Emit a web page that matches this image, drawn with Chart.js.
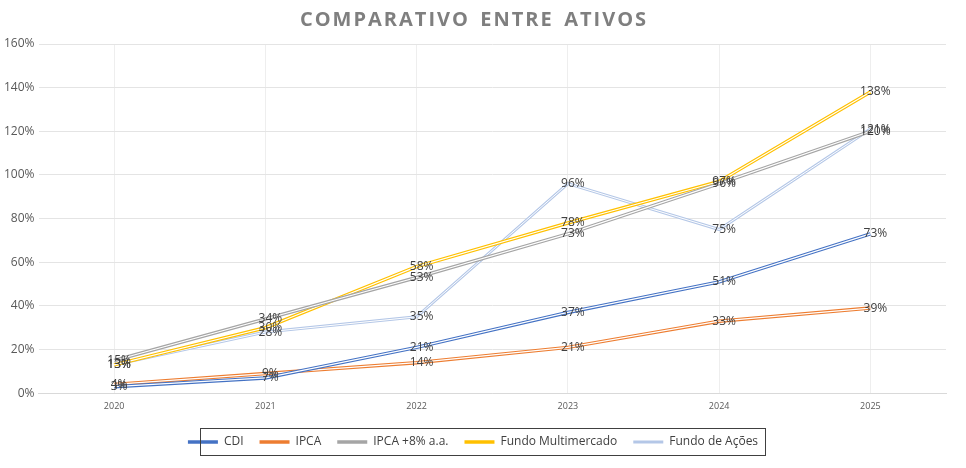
<!DOCTYPE html>
<html>
<head>
<meta charset="utf-8">
<script src="https://cdn.jsdelivr.net/npm/chart.js@4"></script>
<style>
  html, body { margin: 0; background: #fff; }
  #wrap { width: 966px; height: 468px; }
</style>
</head>
<body>
<div id="wrap"><canvas id="myChart"></canvas></div>
<script>
// chart data
const years = ['2020', '2021', '2022', '2023', '2024', '2025'];
const cdi = [3, 7, 21, 37, 51, 73];
const ipca = [4, 9, 14, 21, 33, 39];
const ipcaMais8 = [15, 34, 53, 73, 96, 120];
const multimercado = [13, 30, 58, 78, 97, 138];
const acoes = [13, 28, 35, 96, 75, 121];

// white stripe in the middle of each line, like the double line in Excel
const doubleLine = {
  id: 'doubleLine',
  afterDatasetDraw(chart, args) {
    const meta = args.meta;
    const ctx = chart.ctx;
    ctx.save();
    ctx.strokeStyle = '#fff';
    ctx.lineWidth = meta.index === 4 ? 1 : 1.2;
    ctx.beginPath();
    meta.data.forEach((p, i) => { if (i === 0) ctx.moveTo(p.x, p.y); else ctx.lineTo(p.x, p.y); });
    ctx.stroke();
    ctx.restore();
  }
};

const valueLabels = {
  id: 'valueLabels',
  afterDatasetsDraw(chart) {
    const ctx = chart.ctx;
    ctx.save();
    ctx.font = '12px "Open Sans", sans-serif';
    ctx.fillStyle = '#404040';
    ctx.textAlign = 'center';
    ctx.textBaseline = 'middle';
    chart.data.datasets.forEach((ds, i) => {
      chart.getDatasetMeta(i).data.forEach((p, j) => {
        ctx.fillText(ds.data[j] + '%', p.x + 5, p.y);
      });
    });
    ctx.restore();
  }
};

const legendBox = {
  id: 'legendBox',
  afterDraw(chart) {
    const ctx = chart.ctx;
    ctx.save();
    ctx.strokeStyle = '#404040';
    ctx.lineWidth = 1;
    ctx.strokeRect(200.5, 428.5, 565, 27);
    ctx.restore();
  }
};

function ds(label, data, color, width) {
  return { label: label, data: data, borderColor: color, backgroundColor: color,
    borderWidth: width, pointRadius: 0, tension: 0, fill: false };
}

const ctx = document.getElementById('myChart').getContext('2d');
new Chart(ctx, {
  type: 'line',
  data: {
    labels: years,
    datasets: [
      ds('CDI', cdi, '#4472c4', 3.5),
      ds('IPCA', ipca, '#ed7d31', 3.5),
      ds('IPCA +8% a.a.', ipcaMais8, '#a5a5a5', 3.5),
      ds('Fundo Multimercado', multimercado, '#ffc000', 3.5),
      ds('Fundo de Ações', acoes, '#b4c7e7', 3)
    ]
  },
  options: {
    responsive: true,
    maintainAspectRatio: false,
    animation: false,
    layout: { padding: { left: 0, right: 20, top: 6, bottom: 10 } },
    plugins: {
      title: {
        display: true,
        text: 'C O M P A R A T I V O   E N T R E   A T I V O S'.replace(/ (?! )/g, '\u200A'),
        color: '#7f7f7f',
        font: { family: '"Open Sans", sans-serif', size: 20, weight: 'bold' },
        padding: { top: 2, bottom: 12 }
      },
      legend: {
        position: 'bottom',
        labels: {
          usePointStyle: true,
          pointStyle: 'line',
          pointStyleWidth: 30,
          color: '#404040',
          font: { family: '"Open Sans", sans-serif', size: 12 },
          padding: 16
        }
      },
      tooltip: { enabled: false }
    },
    scales: {
      x: {
        offset: true,
        grid: { color: '#eeeeee', offset: false, drawTicks: false },
        border: { color: '#d9d9d9' },
        ticks: { color: '#595959', font: { size: 9, family: '"Open Sans", sans-serif' }, padding: 8 }
      },
      y: {
        min: 0, max: 160,
        grid: { color: '#e4e4e4', drawTicks: false },
        border: { display: false },
        ticks: { stepSize: 20, color: '#595959', padding: 4,
          font: { size: 12, family: '"Open Sans", sans-serif' },
          callback: v => v + '%' }
      }
    }
  },
  plugins: [doubleLine, valueLabels, legendBox]
});
</script>
</body>
</html>
